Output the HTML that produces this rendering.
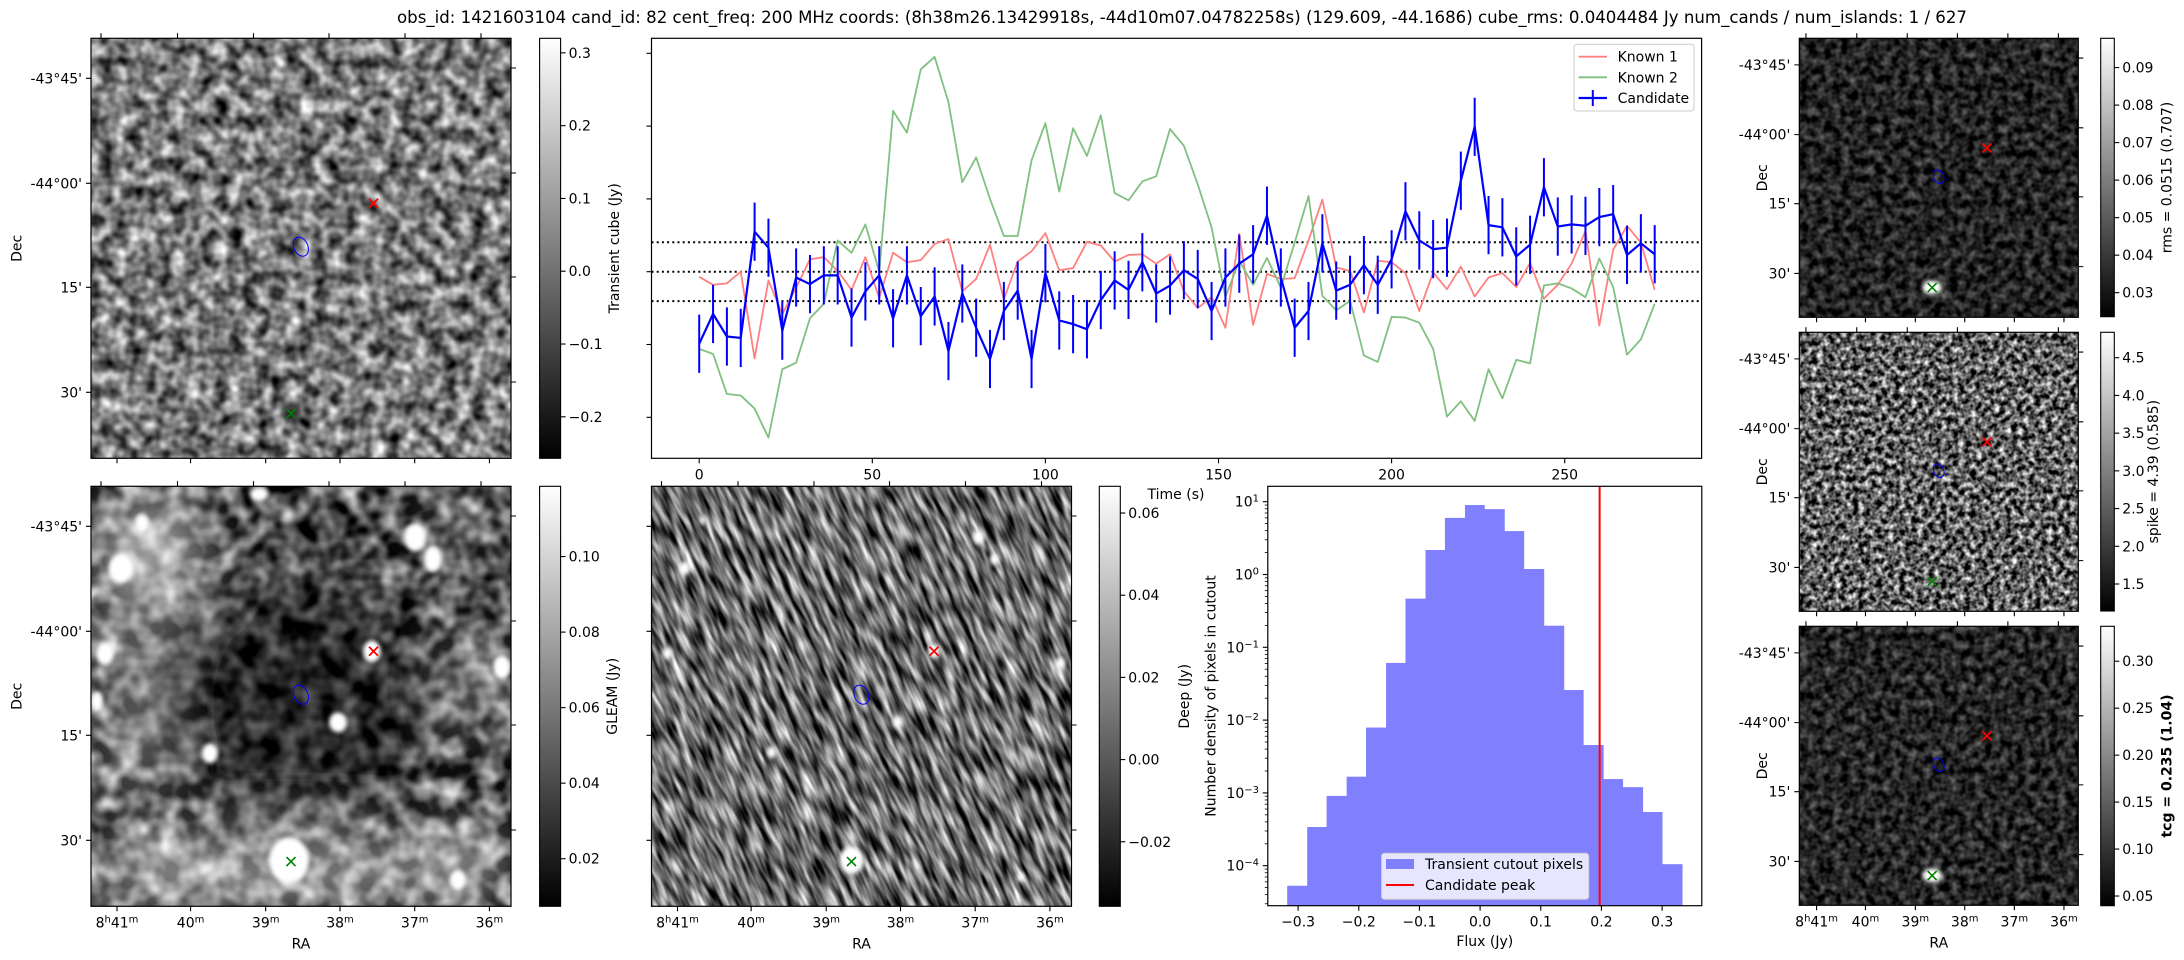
<!DOCTYPE html>
<html><head><meta charset="utf-8">
<style>
html,body{margin:0;padding:0;background:#fff;width:2184px;height:960px;overflow:hidden}
svg{display:block}
text{font-family:"DejaVu Sans","Liberation Sans",sans-serif;fill:#000}
</style></head>
<body>
<svg id="fig" width="2184" height="960" viewBox="0 0 2184 960" xmlns="http://www.w3.org/2000/svg" overflow="hidden">
<defs id="defs">
  <linearGradient id="cbGray" x1="0" y1="1" x2="0" y2="0">
    <stop offset="0" stop-color="#000"/><stop offset="1" stop-color="#fff"/>
  </linearGradient>
  <filter id="blurBig" x="-50%" y="-50%" width="200%" height="200%"><feGaussianBlur stdDeviation="28"/></filter>
  <filter id="blurSmall" x="-50%" y="-50%" width="200%" height="200%"><feGaussianBlur stdDeviation="2"/></filter>
</defs>
</svg>
<script>
// ---------------- chart data ----------------
const lcTimes = [0,4,8,12,16,20,24,28,32,36,40,44,48,52,56,60,64,68,72,76,80,84,88,92,96,100,104,108,112,116,120,124,128,132,136,140,144,148,152,156,160,164,168,172,176,180,184,188,192,196,200,204,208,212,216,220,224,228,232,236,240,244,248,252,256,260,264,268,272,276];
const knownOne = [-0.007,-0.018,-0.016,0.000,-0.119,-0.012,-0.058,-0.022,0.017,0.020,0.001,-0.025,0.020,-0.036,0.026,0.013,0.016,0.038,0.045,-0.027,-0.010,0.037,-0.038,0.014,0.028,0.053,0.002,0.005,0.041,0.036,0.014,0.023,0.024,0.011,0.024,-0.027,-0.050,-0.035,-0.077,0.052,-0.073,-0.003,-0.010,-0.009,0.043,0.099,0.006,0.001,-0.056,0.015,0.013,-0.002,-0.054,-0.001,-0.024,0.007,-0.034,-0.008,-0.002,-0.021,0.012,-0.037,-0.018,0.011,0.056,-0.074,0.030,0.063,0.040,-0.025];
const knownTwo = [-0.106,-0.113,-0.168,-0.170,-0.188,-0.228,-0.134,-0.125,-0.064,-0.044,0.043,0.026,0.065,0.000,0.221,0.191,0.278,0.295,0.233,0.123,0.157,0.100,0.049,0.049,0.153,0.204,0.110,0.197,0.159,0.215,0.108,0.098,0.124,0.131,0.196,0.173,0.120,0.061,-0.035,0.015,-0.018,0.019,-0.022,0.040,0.104,-0.033,-0.053,-0.040,-0.115,-0.124,-0.062,-0.063,-0.070,-0.106,-0.199,-0.178,-0.205,-0.134,-0.174,-0.121,-0.126,-0.019,-0.016,-0.023,-0.035,0.018,-0.021,-0.114,-0.093,-0.044];
const candFlux = [-0.099,-0.058,-0.089,-0.091,0.055,0.033,-0.081,-0.008,-0.017,-0.005,-0.005,-0.063,-0.027,-0.005,-0.064,-0.005,-0.061,-0.034,-0.109,-0.030,-0.077,-0.120,-0.054,-0.026,-0.120,-0.002,-0.067,-0.072,-0.079,-0.039,-0.012,-0.025,0.013,-0.030,-0.019,0.002,-0.010,-0.054,-0.008,0.011,0.024,0.077,-0.008,-0.077,-0.054,0.039,-0.026,-0.018,0.009,-0.018,0.017,0.083,0.043,0.031,0.033,0.125,0.199,0.064,0.061,0.021,0.037,0.116,0.062,0.065,0.063,0.075,0.079,0.023,0.039,0.024];
const candErr = [0.040,0.040,0.040,0.040,0.040,0.040,0.040,0.040,0.040,0.040,0.040,0.040,0.040,0.040,0.040,0.040,0.040,0.040,0.040,0.040,0.040,0.040,0.040,0.040,0.040,0.040,0.040,0.040,0.040,0.040,0.040,0.040,0.040,0.040,0.040,0.040,0.040,0.040,0.040,0.040,0.040,0.040,0.040,0.040,0.040,0.040,0.040,0.040,0.040,0.040,0.040,0.040,0.040,0.040,0.040,0.040,0.040,0.040,0.040,0.040,0.040,0.040,0.040,0.040,0.040,0.040,0.040,0.040,0.040,0.040];
const lcXTicks = [0,50,100,150,200,250];
const lcYTicks = [0.3,0.2,0.1,0.0,-0.1,-0.2];
const rmsLevels = [0.0404484,0,-0.0404484];

const histEdges = [-0.318,-0.285,-0.253,-0.220,-0.188,-0.155,-0.123,-0.090,-0.058,-0.025,0.007,0.040,0.072,0.105,0.138,0.170,0.203,0.235,0.268,0.300,0.333];
const histDensity = [5.3e-5,3.4e-4,9.1e-4,1.67e-3,7.9e-3,0.061,0.466,2.17,6.0,9.0,7.9,3.95,1.19,0.198,0.0259,4.55e-3,1.55e-3,1.2e-3,5.46e-4,1.05e-4];
const candPeak = 0.197;
const histXTicks = [-0.3,-0.2,-0.1,0.0,0.1,0.2,0.3];
const histYExps = [-4,-3,-2,-1,0,1];

// ---------------- helpers ----------------
const NS='http://www.w3.org/2000/svg';
const svg=document.getElementById('fig');
const defs=document.getElementById('defs');
function mk(tag, attrs, parent){const e=document.createElementNS(NS,tag);for(const k in attrs)e.setAttribute(k,attrs[k]);(parent||svg).appendChild(e);return e;}
function txt(str, attrs, parent){const e=mk('text',attrs,parent);e.textContent=str;return e;}
const M='\u2212';
function fmt(v,d){const s=Math.abs(v).toFixed(d);return (v<-1e-9?M:'')+s;}

function noiseFilter(id,freq,oct,seed,mean,slope){
  const f=mk('filter',{id:id,x:'0',y:'0',width:'1',height:'1','color-interpolation-filters':'sRGB'},defs);
  mk('feTurbulence',{type:'fractalNoise',baseFrequency:freq,numOctaves:oct,seed:seed},f);
  mk('feColorMatrix',{type:'matrix',values:'1 0 0 0 0 1 0 0 0 0 1 0 0 0 0 0 0 0 0 1'},f);
  const ct=mk('feComponentTransfer',{},f);
  const ic=(mean-0.5*slope).toFixed(3);
  ['feFuncR','feFuncG','feFuncB'].forEach(n=>mk(n,{type:'linear',slope:slope,intercept:ic},ct));
}
noiseFilter('nA','0.07',2,3,0.48,1.4);
noiseFilter('nB','0.05',2,7,0.32,1.6);
noiseFilter('nC','0.15 0.035',2,11,0.42,1.6);
noiseFilter('nR1','0.12',2,5,0.14,0.7);
noiseFilter('nR2','0.17',2,9,0.38,1.9);
noiseFilter('nR3','0.12',2,13,0.15,0.75);

// ---------------- title ----------------
const title=txt('obs_id: 1421603104 cand_id: 82 cent_freq: 200 MHz coords: (8h38m26.13429918s, -44d10m07.04782258s) (129.609, -44.1686) cube_rms: 0.0404484 Jy num_cands / num_islands: 1 / 627',
 {x:1182,y:23,'text-anchor':'middle','font-size':17,textLength:1570,lengthAdjust:'spacingAndGlyphs'});



// ---------------- image panels ----------------
let clipN=0;
function supLabel(parent,x,y,parts,anchor){
  const t=mk('text',{x:x,y:y,'text-anchor':anchor||'middle','font-size':14},parent);
  parts.forEach(p=>{const s=mk('tspan',p[1]?{'baseline-shift':'super','font-size':10}:{},t);s.textContent=p[0];});
  return t;
}
const decTicks=[40,145,249,354], decLabels=['-43°45\'','-44°00\'','15\'','30\''];
const raTicks=[26,99.6,174.7,249,323.7,398.4];
const raLabels=[[['8',0],['h',1],['41',0],['m',1]],[['40',0],['m',1]],[['39',0],['m',1]],[['38',0],['m',1]],[['37',0],['m',1]],[['36',0],['m',1]]];
const topTicks=[10,86.5,162.5,238,314,390], rightTicks=[29.7,134.7,238.7,343.7];

function imagePanel(name,px,py,size,kind,showDec,showRA){
  const s=size/420;
  const g=mk('g',{});
  
  
  const cid='clip'+(clipN++);
  const cp=mk('clipPath',{id:cid},defs);
  mk('rect',{x:px,y:py,width:size,height:size},cp);
  const body=mk('g',{'clip-path':'url(#'+cid+')'},g);
  if(kind==='deep'){
    const cx=px+size/2, cy=py+size/2;
    const rg=mk('g',{transform:`translate(${cx} ${cy}) skewX(24) translate(${-cx} ${-cy})`},body);
    mk('rect',{x:px-200,y:py,width:size+400,height:size,filter:'url(#nC)'},rg);
  } else {
    const fid={transient:'nA',gleam:'nB',rms:'nR1',spike:'nR2',tcg:'nR3'}[kind];
    mk('rect',{x:px,y:py,width:size,height:size,filter:'url(#'+fid+')'},body);
  }
  const R=(x,y)=>[px+x*s,py+y*s];
  if(kind==='gleam'){
    const bg=mk('g',{filter:'url(#blurBig)'},body);
    [[60,60,60,55,0.6],[40,200,40,140,0.35],[390,200,30,60,0.35],[200,385,200,35,0.55],[380,375,40,45,0.45],[370,30,50,30,0.25],[60,385,60,35,0.3]].forEach(e=>{
      const c=R(e[0],e[1]);mk('ellipse',{cx:c[0],cy:c[1],rx:e[2]*s,ry:e[3]*s,fill:'#fff','fill-opacity':e[4]},bg);});
    const dk=R(200,215);mk('ellipse',{cx:dk[0],cy:dk[1],rx:150*s,ry:115*s,fill:'#000','fill-opacity':0.5},bg);
    const sg=mk('g',{filter:'url(#blurSmall)'},body);
    [[324,51,11,14],[342,73,9,13],[30,82,12,15],[51,37,7,9],[14,167,9,11],[281,165,9,11],[411,181,9,12],[247,236,9,10],[119,267,8,10],[198,374,20,23],[367,394,8,10],[168,8,9,7],[6,215,6,10]].forEach(e=>{
      const c=R(e[0],e[1]);mk('ellipse',{cx:c[0],cy:c[1],rx:e[2]*s,ry:e[3]*s,fill:'#fff'},sg);});
  }
  if(kind==='deep'){
    const sg=mk('g',{filter:'url(#blurSmall)'},body);
    [[327,51,6,7],[343,73,5,6],[33,82,6,7],[16,167,5,6],[282,165,6,7],[409,177,5,6],[246,236,5,6],[120,266,5,6],[200,374,12,14],[369,391,4,5],[51,34,3,4]].forEach(e=>{
      const c=R(e[0],e[1]);mk('ellipse',{cx:c[0],cy:c[1],rx:e[2]*s,ry:e[3]*s,fill:'#fff'},sg);});
  }
  if(kind==='transient'){
    const c=R(200,372);mk('ellipse',{cx:c[0],cy:c[1],rx:9,ry:9,fill:'#000','fill-opacity':0.6,filter:'url(#blurSmall)'},body);
  }
  if(kind==='rms'||kind==='tcg'){
    const c=R(200,375);mk('ellipse',{cx:c[0],cy:c[1],rx:10,ry:7,fill:'#fff',filter:'url(#blurSmall)'},body);
  }
  const bc=R(209.8,208.4);
  const contour=mk('ellipse',{cx:bc[0],cy:bc[1],rx:6*s+1,ry:8.5*s+1.5,fill:'none',stroke:'#0000ff','stroke-width':1,transform:'rotate(-25 '+bc[0]+' '+bc[1]+')'},g);
  
  
  const xm=(c,col,w,nm)=>{const h=4.5;const p=mk('path',{d:`M${c[0]-h},${c[1]-h}L${c[0]+h},${c[1]+h}M${c[0]-h},${c[1]+h}L${c[0]+h},${c[1]-h}`,stroke:col,'stroke-width':w,fill:'none'},g);
    
    };
  xm(R(282.5,165),'#ff0000',1.8,'known-source-1-marker');
  xm(R(200,375.3),'#008000',1.6,'known-source-2-marker');
  mk('rect',{x:px,y:py,width:size,height:size,fill:'none',stroke:'#000','stroke-width':1.2},g);
  let d='';
  topTicks.forEach(t=>{const x=px+t*s;d+=`M${x},${py}v-5`;});
  raTicks.forEach(t=>{const x=px+t*s;d+=`M${x},${py+size}v5`;});
  decTicks.forEach(t=>{const y=py+t*s;d+=`M${px},${y}h-5`;});
  rightTicks.forEach(t=>{const y=py+t*s;d+=`M${px+size},${y}h5`;});
  mk('path',{d:d,stroke:'#000','stroke-width':1.1,fill:'none'},g);
  if(showDec){
    decTicks.forEach((t,i)=>{const l=txt(decLabels[i],{x:px-9,y:py+t*s+5,'text-anchor':'end','font-size':14},g);
      
      });
    const dx=size>300?16.5:1762;
    const dl=txt('Dec',{x:dx,y:py+size/2,'text-anchor':'middle','font-size':14,transform:`rotate(-90 ${dx} ${py+size/2})`,dy:5},g);
    
    
  }
  if(showRA){
    raTicks.forEach((t,i)=>{const l=supLabel(g,px+t*s,py+size+21,raLabels[i]);
      
      });
    const rl=txt('RA',{x:px+size/2,y:py+size+42,'text-anchor':'middle','font-size':14},g);
    
    
  }
}

function colorbar(name,x,y,w,h,vmin,vmax,ticks,labels,label,lx,bold){
  const g=mk('g',{});
  
  
  mk('rect',{x:x,y:y,width:w,height:h,fill:'url(#cbGray)',stroke:'#000','stroke-width':1.1},g);
  const cy=v=>y+(vmax-v)/(vmax-vmin)*h;
  ticks.forEach((v,i)=>{const yy=cy(v);
    mk('line',{x1:x+w,x2:x+w+5,y1:yy,y2:yy,stroke:'#000','stroke-width':1.1},g);
    const t=txt(labels[i],{x:x+w+8,y:yy+5,'font-size':14},g);
    
    });
  const cyc=y+h/2;
  const l=txt(label,{x:lx,y:cyc,'text-anchor':'middle','font-size':14,dy:5,transform:`rotate(-90 ${lx} ${cyc})`,'font-weight':bold?'bold':'normal'},g);
  
  
}

imagePanel('transient-cube-image',91,38.3,420,'transient',true,false);
colorbar('transient-colorbar',539.6,38.3,21,420,-0.257,0.32,[0.3,0.2,0.1,0,-0.1,-0.2],['0.3','0.2','0.1','0.0',M+'0.1',M+'0.2'],'Transient cube (Jy)',614);
imagePanel('gleam-image',91,486.3,420,'gleam',true,true);
colorbar('gleam-colorbar',539.6,486.3,21,420,0.0074,0.1186,[0.10,0.08,0.06,0.04,0.02],['0.10','0.08','0.06','0.04','0.02'],'GLEAM (Jy)',612);
imagePanel('deep-image',651.5,486.3,420,'deep',false,true);
colorbar('deep-colorbar',1099.3,486.3,21,420,-0.0357,0.0665,[0.06,0.04,0.02,0,-0.02],['0.06','0.04','0.02','0.00',M+'0.02'],'Deep (Jy)',1184);
imagePanel('rms-image',1799.3,38.3,279,'rms',true,false);
colorbar('rms-colorbar',2100.7,38.3,13.6,278.4,0.0236,0.0978,[0.03,0.04,0.05,0.06,0.07,0.08,0.09],['0.03','0.04','0.05','0.06','0.07','0.08','0.09'],'rms = 0.0515 (0.707)',2166.7);
imagePanel('spike-image',1799.3,332.3,279,'spike',true,false);
colorbar('spike-colorbar',2100.7,332.3,13.6,278.7,1.142,4.837,[1.5,2,2.5,3,3.5,4,4.5],['1.5','2.0','2.5','3.0','3.5','4.0','4.5'],'spike = 4.39 (0.585)',2153);
imagePanel('tcg-image',1799.3,626.3,279,'tcg',true,true);
colorbar('tcg-colorbar',2100.7,626.3,13.6,279.4,0.0397,0.3372,[0.05,0.10,0.15,0.20,0.25,0.30],['0.05','0.10','0.15','0.20','0.25','0.30'],'tcg = 0.235 (1.04)',2166.7,true);

// ---------------- light curve ----------------
const LC={l:651.5,r:1701.6,t:38.3,b:458.3};
const lcX=t=>699.2+t*3.462;
const lcY=v=>271.7-v*728;
const lcG=mk('g',{});


const lcClip=mk('clipPath',{id:'lcClip'},defs);
mk('rect',{x:LC.l,y:LC.t,width:LC.r-LC.l,height:LC.b-LC.t},lcClip);
const lcPlot=mk('g',{'clip-path':'url(#lcClip)'},lcG);
rmsLevels.forEach(v=>{const ln=mk('line',{x1:LC.l,x2:LC.r,y1:lcY(v),y2:lcY(v),stroke:'#000','stroke-width':2,'stroke-dasharray':'2,3.2'},lcPlot);
  
  });
function series(vals,col,w,nm){
  const d=vals.map((v,i)=>(i?'L':'M')+lcX(lcTimes[i]).toFixed(2)+','+lcY(v).toFixed(2)).join('');
  const p=mk('path',{d:d,stroke:col,'stroke-width':w,fill:'none','stroke-linejoin':'round'},lcPlot);
  
  
}
series(knownOne,'#ff8080',1.8,'known-1-line');
series(knownTwo,'#80c080',1.8,'known-2-line');
series(candFlux,'#0000ff',2.2,'candidate-line');
candFlux.forEach((v,i)=>{const x=lcX(lcTimes[i]);
  const e=mk('line',{x1:x,x2:x,y1:lcY(v-candErr[i]),y2:lcY(v+candErr[i]),stroke:'#0000ff','stroke-width':2},lcPlot);
  
  });
mk('rect',{x:LC.l,y:LC.t,width:LC.r-LC.l,height:LC.b-LC.t,fill:'none',stroke:'#000','stroke-width':1.2},lcG);
lcXTicks.forEach(t=>{const x=lcX(t);mk('line',{x1:x,x2:x,y1:LC.b,y2:LC.b+5,stroke:'#000','stroke-width':1.1},lcG);
  const l=txt(String(t),{x:x,y:LC.b+21,'text-anchor':'middle','font-size':14},lcG);
  
  });
lcYTicks.forEach(v=>{const y=lcY(v);mk('line',{x1:LC.l,x2:LC.l-5,y1:y,y2:y,stroke:'#000','stroke-width':1.1},lcG);});
const tl=txt('Time (s)',{x:1176,y:499,'text-anchor':'middle','font-size':14},lcG);


const lg=mk('g',{},lcG);


mk('rect',{x:1574,y:44.3,width:120,height:66.7,rx:3,fill:'#fff','fill-opacity':0.85,stroke:'#ccc','stroke-width':1},lg);
[['Known 1','#ff8080',56.7],['Known 2','#80c080',77.3],['Candidate','#0000ff',98]].forEach((e,i)=>{
  mk('line',{x1:1578.6,x2:1607,y1:e[2],y2:e[2],stroke:e[1],'stroke-width':i==2?2.2:1.8},lg);
  if(i==2)mk('line',{x1:1592.8,x2:1592.8,y1:e[2]-8,y2:e[2]+8,stroke:e[1],'stroke-width':2},lg);
  const t=txt(e[0],{x:1617.6,y:e[2]+5,'font-size':14},lg);
  
  
});

// ---------------- histogram ----------------
const H={l:1267.8,r:1701.8,t:486.3,b:905.7};
const hX=v=>1480.1+v*606.7;
const hY=d=>501.7-(Math.log10(d)-1)*72.8;
const hG=mk('g',{});


histDensity.forEach((d,i)=>{
  const x0=hX(histEdges[i]),x1=hX(histEdges[i+1]),y=hY(d);
  const b=mk('rect',{x:x0,y:y,width:x1-x0+0.4,height:H.b-y,fill:'#8080ff'},hG);
  
  
});
const pk=mk('line',{x1:hX(candPeak),x2:hX(candPeak),y1:H.t,y2:H.b,stroke:'#ff0000','stroke-width':2},hG);


mk('rect',{x:H.l,y:H.t,width:H.r-H.l,height:H.b-H.t,fill:'none',stroke:'#000','stroke-width':1.2},hG);
histXTicks.forEach(v=>{const x=hX(v);mk('line',{x1:x,x2:x,y1:H.b,y2:H.b+5,stroke:'#000','stroke-width':1.1},hG);
  const l=txt(fmt(v,1),{x:x,y:H.b+21,'text-anchor':'middle','font-size':14},hG);
  
  });
histYExps.forEach(e=>{const y=hY(Math.pow(10,e));mk('line',{x1:H.l,x2:H.l-5,y1:y,y2:y,stroke:'#000','stroke-width':1.1},hG);
  const t=supLabel(hG,1259,y+5,[['10',0],[(e<0?M:'')+Math.abs(e),1]],'end');
  
  });
for(let e=-5;e<=1;e++){for(let m=2;m<=9;m++){const y=hY(m*Math.pow(10,e));if(y>H.t&&y<H.b)mk('line',{x1:H.l,x2:H.l-3,y1:y,y2:y,stroke:'#000','stroke-width':0.8},hG);}}
const fx=txt('Flux (Jy)',{x:(H.l+H.r)/2,y:946,'text-anchor':'middle','font-size':14},hG);


const ny=txt('Number density of pixels in cutout',{x:1210.3,y:(H.t+H.b)/2,'text-anchor':'middle','font-size':14,dy:5,transform:`rotate(-90 1210.3 ${(H.t+H.b)/2})`},hG);


const hl=mk('g',{},hG);


mk('rect',{x:1381.5,y:853.3,width:207.3,height:46,rx:3,fill:'#fff','fill-opacity':0.8,stroke:'#ccc','stroke-width':1},hl);
mk('rect',{x:1386,y:859,width:28,height:10,fill:'#8080ff'},hl);
const le1=txt('Transient cutout pixels',{x:1425,y:869,'font-size':14},hl);


mk('line',{x1:1386,x2:1414,y1:885,y2:885,stroke:'#ff0000','stroke-width':2},hl);
const le2=txt('Candidate peak',{x:1425,y:890,'font-size':14},hl);


</script>
</body></html>
